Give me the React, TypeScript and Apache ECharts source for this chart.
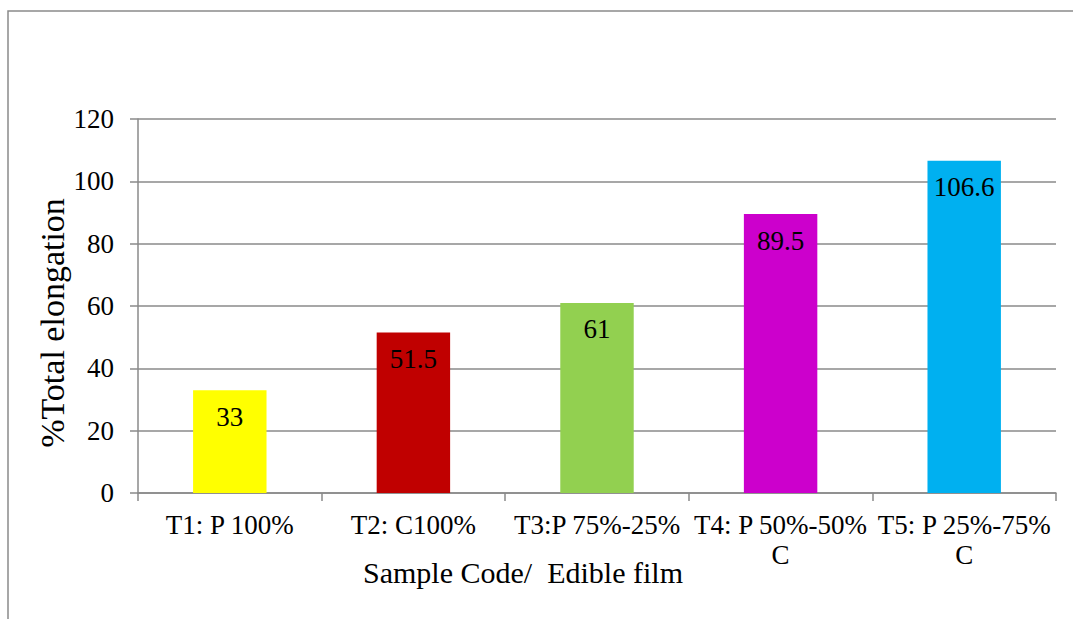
import React, { useEffect, useRef } from "react";
import * as echarts from "echarts";

// Sample codes (the two longest names wrap onto a second line)
const categories = [
  "T1: P 100%",
  "T2: C100%",
  "T3:P 75%-25%",
  "T4: P 50%-50%\nC",
  "T5: P 25%-75%\nC",
];
const elongation = [33, 51.5, 61, 89.5, 106.6];
const barColors = ["#FFFF00", "#C00000", "#92D050", "#CC00CC", "#00B0F0"];
const yTicks = { min: 0, max: 120, interval: 20 };

const FONT = "Liberation Serif";
const GRID_GRAY = "#8a8a8a";

export default function App() {
  const ref = useRef<HTMLDivElement>(null);

  useEffect(() => {
    if (!ref.current) return;
    const chart = echarts.init(ref.current, undefined, { renderer: "svg" });
    chart.setOption({
      animation: false,
      backgroundColor: "#ffffff",
      textStyle: { fontFamily: FONT },
      grid: { left: 138, right: 17, top: 119, bottom: 126 },
      xAxis: {
        type: "category",
        data: categories,
        axisLine: { lineStyle: { color: GRID_GRAY, width: 1.5 } },
        axisTick: { show: true, length: 8, alignWithLabel: false, lineStyle: { color: GRID_GRAY, width: 1.5 } },
        axisLabel: {
          color: "#000",
          fontFamily: FONT,
          fontSize: 27,
          margin: 17,
          lineHeight: 30,
          interval: 0,
        },
      },
      yAxis: {
        type: "value",
        min: yTicks.min,
        max: yTicks.max,
        interval: yTicks.interval,
        axisLine: { show: true, lineStyle: { color: GRID_GRAY, width: 1.5 } },
        axisTick: { show: true, length: 8, lineStyle: { color: GRID_GRAY, width: 1.5 } },
        splitLine: { lineStyle: { color: GRID_GRAY, width: 1.5 } },
        axisLabel: { color: "#000", fontFamily: FONT, fontSize: 27, margin: 24 },
      },
      series: [
        {
          type: "bar",
          data: elongation.map((v, i) => ({ value: v, itemStyle: { color: barColors[i] } })),
          barWidth: "40%",
          label: {
            show: true,
            position: "insideTop",
            distance: 13,
            color: "#000",
            fontFamily: FONT,
            fontSize: 27,
          },
        },
      ],
      graphic: [
        {
          type: "rect",
          shape: { x: 8, y: 11, width: 1200, height: 800 },
          style: { fill: "none", stroke: GRID_GRAY, lineWidth: 1.5 },
          silent: true,
        },
        {
          type: "text",
          x: 52,
          y: 323,
          rotation: Math.PI / 2,
          style: {
            text: "%Total elongation",
            fontFamily: FONT,
            fontSize: 34,
            fill: "#000",
            align: "center",
            verticalAlign: "middle",
          },
        },
        {
          type: "text",
          x: 523,
          y: 572,
          style: {
            text: "Sample Code/  Edible film",
            fontFamily: FONT,
            fontSize: 30,
            fill: "#000",
            align: "center",
            verticalAlign: "middle",
          },
        },
      ],
    });
    return () => chart.dispose();
  }, []);

  return (
    <div
      ref={ref}
      style={{ position: "fixed", left: 0, top: 0, width: 1073, height: 619 }}
    />
  );
}
